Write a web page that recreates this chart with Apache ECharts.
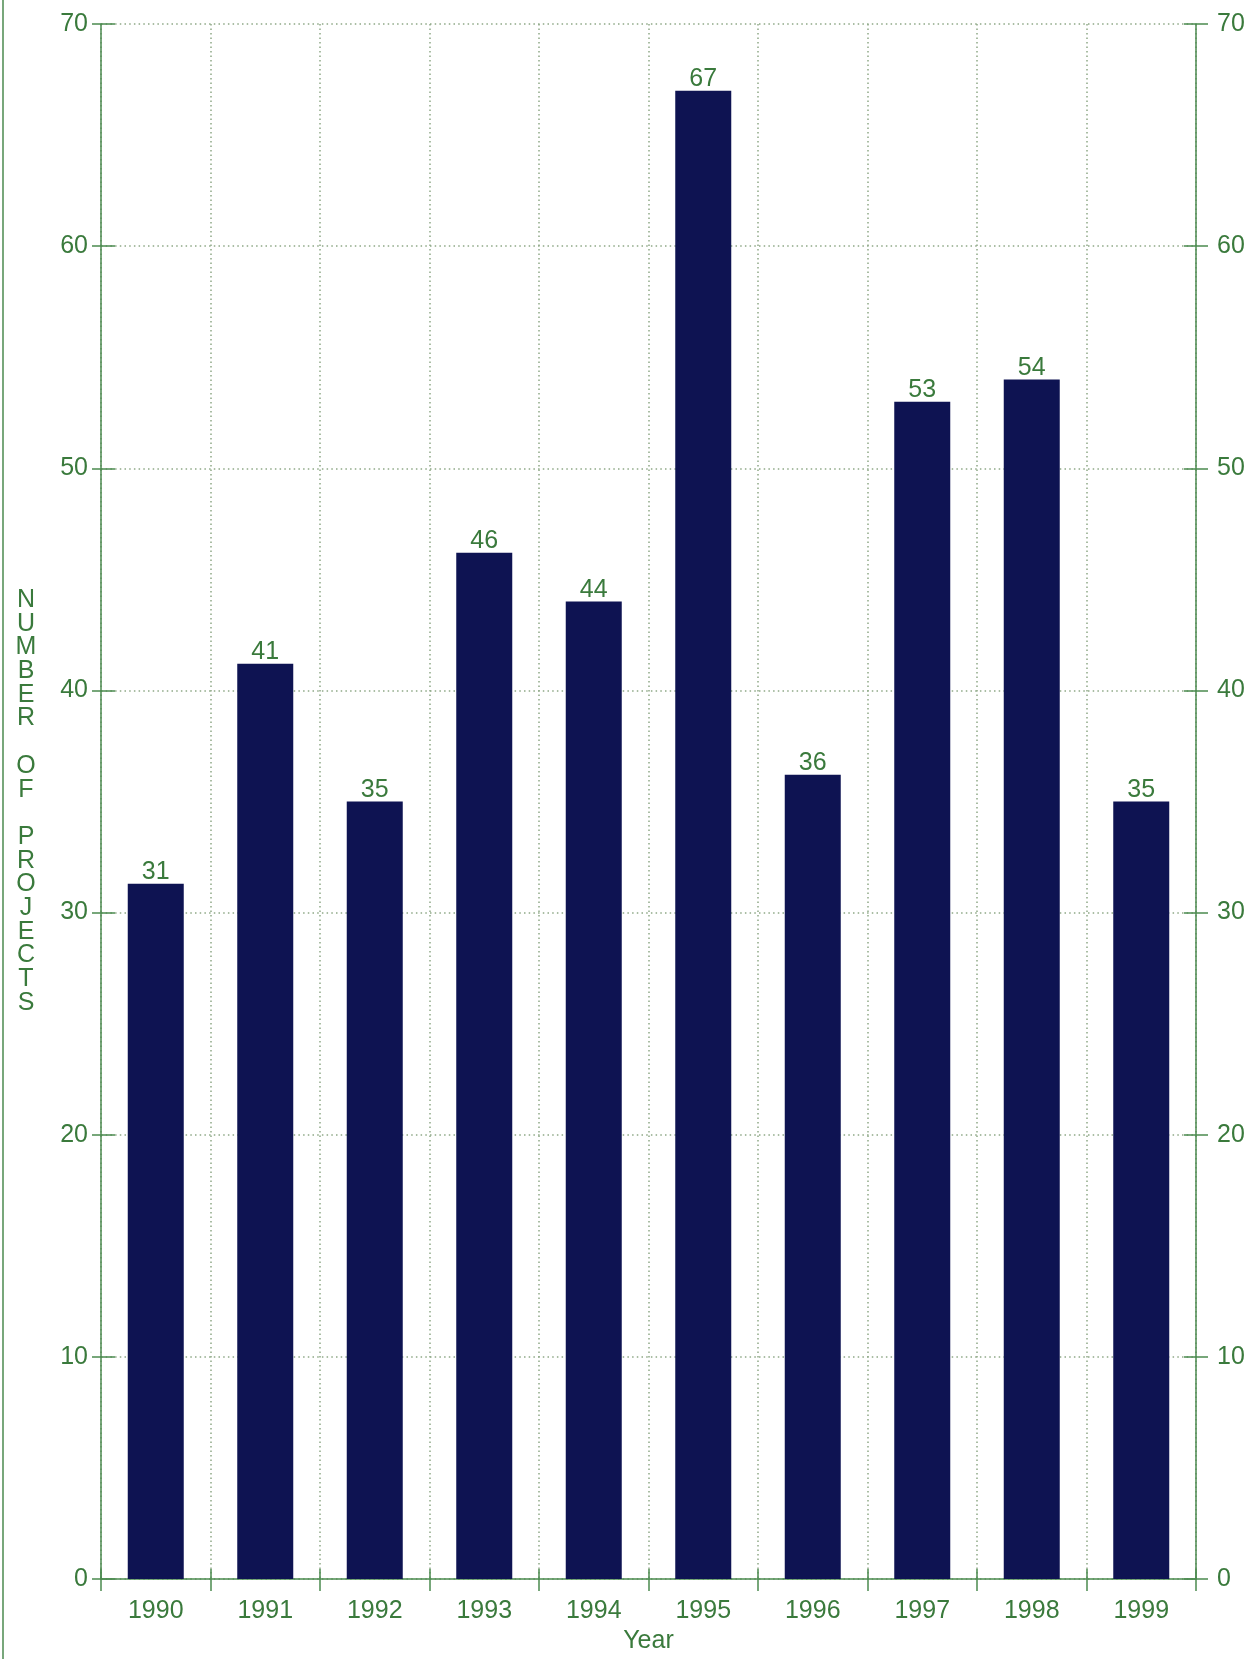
<!DOCTYPE html>
<html>
<head>
<meta charset="utf-8">
<script src="https://cdn.jsdelivr.net/npm/echarts@6/dist/echarts.min.js"></script>
<style>
html,body{margin:0;padding:0;background:#ffffff;}
#chart{width:1258px;height:1659px;}
</style>
</head>
<body>
<div id="chart"></div>
<script>
const years = ['1990','1991','1992','1993','1994','1995','1996','1997','1998','1999'];
const projects = [31.3, 41.2, 35.0, 46.2, 44.0, 67.0, 36.2, 53.0, 54.0, 35.0];
const yTicks = [0, 10, 20, 30, 40, 50, 60, 70];

const GREEN_TEXT = '#3a7a3c';
const GREEN_LINE = '#4b8a4f';
const GRID_DOT = '#8ea886';
const BAR = '#0e1352';
const FONT = 'Liberation Sans';

const chart = echarts.init(document.getElementById('chart'), null, {renderer: 'canvas'});

const yBase = {
  type: 'value', min: yTicks[0], max: yTicks[yTicks.length - 1], interval: 10
};

chart.setOption({
  animation: false,
  backgroundColor: '#ffffff',
  textStyle: {fontFamily: FONT},
  grid: {left: 101, right: 62, top: 24, bottom: 76, containLabel: false},
  graphic: [{
    type: 'line',
    shape: {x1: 3, y1: 0, x2: 3, y2: 1659},
    style: {stroke: GREEN_LINE, lineWidth: 1.5}
  }],
  xAxis: [{
    type: 'category',
    data: years,
    boundaryGap: true,
    name: 'Year',
    nameLocation: 'middle',
    nameGap: 50,
    nameTextStyle: {color: GREEN_TEXT, fontSize: 25, fontFamily: FONT},
    axisLine: {lineStyle: {color: GREEN_LINE, width: 1.5}},
    axisTick: {show: true, inside: false, length: 12, lineStyle: {color: GREEN_LINE, width: 1.5}},
    axisLabel: {color: GREEN_TEXT, fontSize: 25, fontFamily: FONT, margin: 20},
    splitLine: {show: true, lineStyle: {color: GRID_DOT, width: 1.5, type: [1.5, 3]}}
  }, {
    type: 'category',
    data: years,
    position: 'bottom',
    boundaryGap: true,
    axisLine: {show: false},
    axisTick: {show: true, inside: true, length: 10, lineStyle: {color: GREEN_LINE, width: 1.5}},
    axisLabel: {show: false},
    splitLine: {show: false}
  }],
  yAxis: [Object.assign({}, yBase, {
    position: 'left',
    name: 'N\nU\nM\nB\nE\nR\n\nO\nF\n\nP\nR\nO\nJ\nE\nC\nT\nS',
    nameLocation: 'middle',
    nameRotate: 0,
    nameGap: 75,
    nameTextStyle: {color: GREEN_TEXT, fontSize: 25, fontFamily: FONT, align: 'center', verticalAlign: 'middle', lineHeight: 23.7},
    axisLine: {show: true, lineStyle: {color: GREEN_LINE, width: 1.5}},
    axisTick: {show: true, inside: false, length: 9, lineStyle: {color: GREEN_LINE, width: 1.5}},
    axisLabel: {color: GREEN_TEXT, fontSize: 25, fontFamily: FONT, margin: 13},
    splitLine: {show: true, lineStyle: {color: GRID_DOT, width: 1.5, type: [1.5, 3.2]}}
  }), Object.assign({}, yBase, {
    position: 'right',
    axisLine: {show: true, lineStyle: {color: GREEN_LINE, width: 1.5}},
    axisTick: {show: true, inside: false, length: 12, lineStyle: {color: GREEN_LINE, width: 1.5}},
    axisLabel: {color: GREEN_TEXT, fontSize: 25, fontFamily: FONT, margin: 21},
    splitLine: {show: false}
  }), Object.assign({}, yBase, {
    position: 'left',
    axisLine: {show: false},
    axisTick: {show: true, inside: true, length: 14, lineStyle: {color: GREEN_LINE, width: 1.5}},
    axisLabel: {show: false},
    splitLine: {show: false}
  }), Object.assign({}, yBase, {
    position: 'right',
    axisLine: {show: false},
    axisTick: {show: true, inside: true, length: 12, lineStyle: {color: GREEN_LINE, width: 1.5}},
    axisLabel: {show: false},
    splitLine: {show: false}
  })],
  series: [{
    type: 'bar',
    data: projects,
    xAxisIndex: 0,
    yAxisIndex: 0,
    barWidth: 56,
    itemStyle: {color: BAR},
    label: {
      show: true,
      position: 'top',
      distance: -1,
      color: GREEN_TEXT,
      fontSize: 25,
      fontFamily: FONT,
      formatter: p => String(Math.round(p.value))
    }
  }]
});
</script>
</body>
</html>
